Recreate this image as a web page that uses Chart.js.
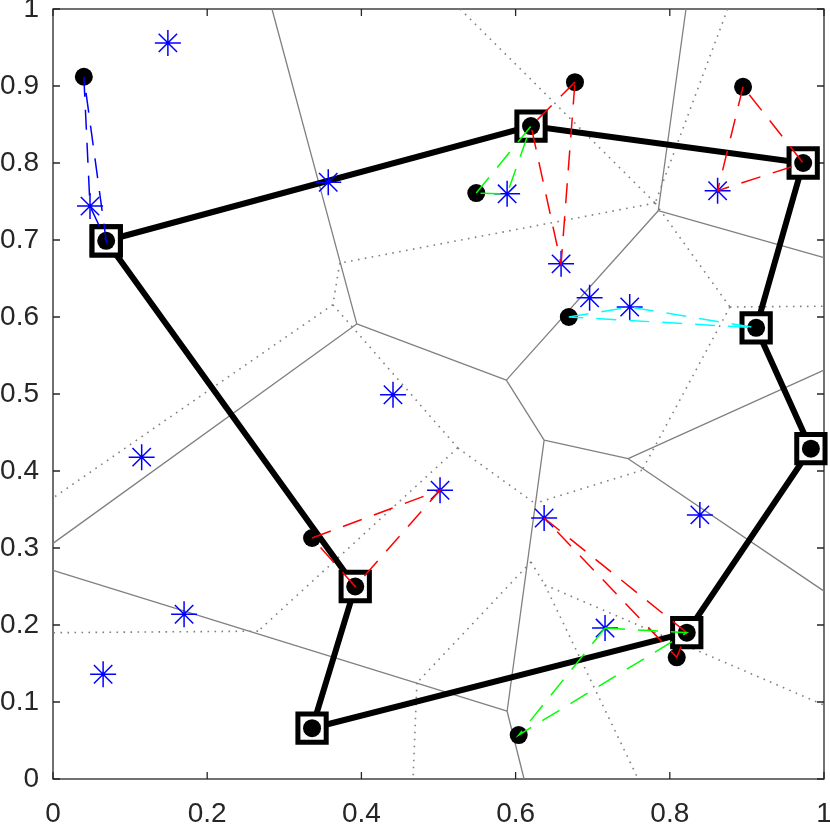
<!DOCTYPE html>
<html>
<head>
<meta charset="utf-8">
<script src="https://cdn.jsdelivr.net/npm/chart.js@4.4.0/dist/chart.umd.min.js"></script>
<style>
html, body { margin: 0; padding: 0; background: #fff; }
#wrap { width: 830px; height: 827px; }
</style>
</head>
<body>
<div id="wrap"><canvas id="voronoiChart" width="830" height="827"></canvas></div>
<script>
// tick labels
const xTickLabels = ['0', '0.2', '0.4', '0.6', '0.8', '1'];
const yTickLabels = ['0', '0.1', '0.2', '0.3', '0.4', '0.5', '0.6', '0.7', '0.8', '0.9', '1'];

// closed tour through the square points (in visiting order)
const tourVertices = [
    [0.069, 0.699], [0.620, 0.848], [0.973, 0.800], [0.912, 0.586],
    [0.983, 0.429], [0.822, 0.190], [0.336, 0.066], [0.392, 0.250]
];

// black dots
const dotPoints = [
    [0.040, 0.912], [0.069, 0.699], [0.620, 0.848], [0.677, 0.905],
    [0.895, 0.899], [0.973, 0.800], [0.549, 0.761], [0.669, 0.600],
    [0.912, 0.586], [0.983, 0.429], [0.336, 0.313], [0.392, 0.250],
    [0.336, 0.066], [0.822, 0.190], [0.809, 0.158], [0.604, 0.057]
];

// blue asterisks
const starPoints = [
    [0.149, 0.956], [0.048, 0.744], [0.357, 0.775], [0.589, 0.760],
    [0.659, 0.669], [0.696, 0.625], [0.748, 0.613], [0.862, 0.764],
    [0.441, 0.499], [0.115, 0.418], [0.502, 0.375], [0.637, 0.339],
    [0.839, 0.343], [0.170, 0.214], [0.065, 0.136], [0.716, 0.196]
];

// voronoi edges [x1, y1, x2, y2]
const solidEdges = [
    [0.284, 1, 0.394, 0.591], [0.394, 0.591, 0, 0.306], [0.394, 0.591, 0.588, 0.518],
    [0.588, 0.518, 0.785, 0.738], [0.588, 0.518, 0.637, 0.440], [0.785, 0.738, 0.821, 1],
    [0.785, 0.738, 1, 0.677], [0.637, 0.440, 0.746, 0.416], [0.637, 0.440, 0.589, 0.088],
    [0.746, 0.416, 1, 0.531], [0.746, 0.416, 1, 0.244], [0.589, 0.088, 0.611, 0],
    [0.589, 0.088, 0, 0.271]
];
const dottedEdges = [
    [0.528, 1, 0.781, 0.748], [0.875, 1, 0.781, 0.748], [0.781, 0.748, 0.372, 0.670],
    [0.781, 0.748, 0.878, 0.613], [0.878, 0.613, 1, 0.614], [0.878, 0.613, 0.764, 0.401],
    [0.764, 0.401, 0.625, 0.358], [0.372, 0.670, 0.363, 0.616], [0.363, 0.616, 0, 0.365],
    [0.363, 0.616, 0.525, 0.430], [0.525, 0.430, 0.266, 0.192], [0.266, 0.192, 0, 0.190],
    [0.525, 0.430, 0.625, 0.358], [0.620, 0.282, 0.472, 0.125], [0.472, 0.125, 0.467, 0],
    [0.620, 0.282, 0.638, 0.252], [0.638, 0.252, 0.759, 0], [0.638, 0.252, 1, 0.096]
];

// dashed triangles, grouped by colour
const blueTriangles = [
    [[0.040, 0.912], [0.048, 0.744], [0.069, 0.699]]
];
const redTriangles = [
    [[0.677, 0.905], [0.620, 0.848], [0.659, 0.669]],
    [[0.895, 0.899], [0.862, 0.764], [0.973, 0.800]],
    [[0.336, 0.313], [0.502, 0.375], [0.392, 0.250]],
    [[0.637, 0.339], [0.822, 0.190], [0.809, 0.158]]
];
const greenTriangles = [
    [[0.549, 0.761], [0.620, 0.848], [0.589, 0.760]],
    [[0.716, 0.196], [0.822, 0.190], [0.604, 0.057]]
];
const cyanTriangles = [
    [[0.669, 0.600], [0.748, 0.613], [0.912, 0.586]]
];

function toPoints(list) {
    return list.map(p => ({ x: p[0], y: p[1] }));
}
function edgesToData(edges) {
    const out = [];
    edges.forEach(e => out.push({ x: e[0], y: e[1] }, { x: e[2], y: e[3] }, { x: null, y: null }));
    return out;
}
function trianglesToData(tris) {
    const out = [];
    tris.forEach(t => {
        t.forEach(p => out.push({ x: p[0], y: p[1] }));
        out.push({ x: t[0][0], y: t[0][1] }, { x: null, y: null });
    });
    return out;
}

function lineSet(data, color, width, dash) {
    return {
        data: data, showLine: true, spanGaps: false, borderColor: color,
        borderWidth: width, borderDash: dash, pointRadius: 0, clip: false
    };
}

// box with inward ticks on all four sides
const boxPlugin = {
    id: 'box',
    beforeDatasetsDraw(chart) {
        const { ctx, chartArea: a, scales: { x, y } } = chart;
        ctx.save();
        ctx.strokeStyle = '#262626';
        ctx.lineWidth = 1.3;
        ctx.strokeRect(a.left, a.top, a.right - a.left, a.bottom - a.top);
        ctx.beginPath();
        x.ticks.forEach(t => {
            const px = x.getPixelForValue(t.value);
            ctx.moveTo(px, a.bottom); ctx.lineTo(px, a.bottom - 7);
            ctx.moveTo(px, a.top); ctx.lineTo(px, a.top + 7);
        });
        y.ticks.forEach(t => {
            const py = y.getPixelForValue(t.value);
            ctx.moveTo(a.left, py); ctx.lineTo(a.left + 7, py);
            ctx.moveTo(a.right, py); ctx.lineTo(a.right - 7, py);
        });
        ctx.stroke();
        ctx.restore();
    }
};

const dashPattern = [20, 13];

const layers = [
    lineSet(edgesToData(solidEdges), '#808080', 1.3, []),
    lineSet(edgesToData(dottedEdges), '#808080', 1.6, [1.6, 5.4]),
    {
        data: toPoints(tourVertices.concat([tourVertices[0]])),
        showLine: true, borderColor: '#000', borderWidth: 6,
        pointStyle: 'rect', pointRadius: 20, pointBorderWidth: 5,
        pointBorderColor: '#000', pointBackgroundColor: '#fff', clip: false
    },
    {
        data: toPoints(dotPoints), pointStyle: 'circle', pointRadius: 9,
        pointBorderWidth: 0, pointBackgroundColor: '#000', clip: false
    },
    {
        data: toPoints(starPoints), pointStyle: 'star', pointRadius: 13,
        pointBorderWidth: 1.5, pointBorderColor: '#0000ff', pointBackgroundColor: '#0000ff', clip: false
    },
    lineSet(trianglesToData(blueTriangles), '#0000ff', 1.5, dashPattern),
    lineSet(trianglesToData(redTriangles), '#ff0000', 1.5, dashPattern),
    lineSet(trianglesToData(greenTriangles), '#00ff00', 1.5, dashPattern),
    lineSet(trianglesToData(cyanTriangles), '#00ffff', 1.5, dashPattern)
];
// first layer drawn first (bottom)
layers.forEach((d, i) => { d.order = layers.length - i; });

const tickFont = { family: 'Liberation Sans', size: 28 };

// fixed axis sizes, no extra room for overhanging labels
function fixAxis(size, horizontal) {
    return s => {
        if (horizontal) s.height = size; else s.width = size;
        s.paddingTop = 0; s.paddingBottom = 0; s.paddingLeft = 0; s.paddingRight = 0;
    };
}

const ctx = document.getElementById('voronoiChart').getContext('2d');
const voronoiChart = new Chart(ctx, {
    type: 'scatter',
    data: { datasets: layers },
    options: {
        responsive: false,
        animation: false,
        events: [],
        layout: { padding: { top: 9, right: 6, left: 0, bottom: 0 }, autoPadding: false },
        plugins: { legend: { display: false }, tooltip: { enabled: false } },
        scales: {
            x: {
                type: 'linear', min: 0, max: 1,
                grid: { display: false, drawTicks: false }, border: { display: false },
                ticks: {
                    stepSize: 0.2, padding: 18, color: '#262626', font: tickFont,
                    maxRotation: 0, autoSkip: false,
                    callback: (v, i) => xTickLabels[i]
                },
                afterFit: fixAxis(48, true)
            },
            y: {
                type: 'linear', min: 0, max: 1,
                grid: { display: false, drawTicks: false }, border: { display: false },
                ticks: {
                    stepSize: 0.1, padding: 14, color: '#262626', font: tickFont,
                    autoSkip: false,
                    callback: (v, i) => yTickLabels[i]
                },
                afterFit: fixAxis(53, false)
            }
        }
    },
    plugins: [boxPlugin]
});
</script>
</body>
</html>
